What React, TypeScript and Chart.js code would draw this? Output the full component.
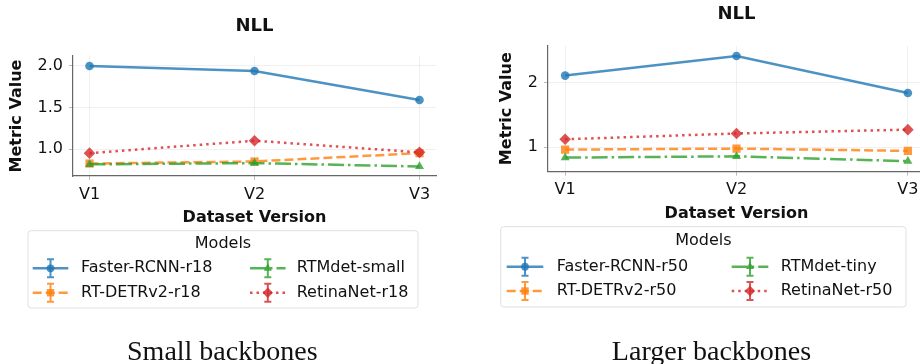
import React, { useEffect, useRef } from 'react';
import { Chart, registerables } from 'chart.js';

Chart.register(...registerables);

// ---------- data ----------
const versions = ['V1', 'V2', 'V3'];
const smallModels = ['Faster-RCNN-r18', 'RT-DETRv2-r18', 'RTMdet-small', 'RetinaNet-r18'];
const largeModels = ['Faster-RCNN-r50', 'RT-DETRv2-r50', 'RTMdet-tiny', 'RetinaNet-r50'];

const fasterSmall = [2.0, 1.94, 1.59];
const rtdetrSmall = [0.825, 0.85, 0.95];
const rtmdetSmall = [0.815, 0.83, 0.79];
const retinaSmall = [0.95, 1.1, 0.96];

const fasterLarge = [2.11, 2.415, 1.84];
const rtdetrLarge = [0.96, 0.975, 0.94];
const rtmdetLarge = [0.835, 0.855, 0.78];
const retinaLarge = [1.12, 1.21, 1.27];

const yTicksSmall = [1.0, 1.5, 2.0];
const yTicksLarge = [1, 2];
const xTickValues = [0, 1, 2];

const chartTitle = 'NLL';
const yTitle = 'Metric Value';
const xTitle = 'Dataset Version';
const legendTitle = 'Models';
const captions = ['Small backbones', 'Larger backbones'];

// ---------- styles ----------
const FONT = '"DejaVu Sans", sans-serif';
const TEXT = '#111';

type SeriesStyle = { rgb: number[]; dash: number[]; point: string; radius: number };
const seriesStyles: SeriesStyle[] = [
  { rgb: [31, 119, 180], dash: [], point: 'circle', radius: 4.3 },
  { rgb: [255, 127, 14], dash: [9, 4], point: 'rect', radius: 5.8 },
  { rgb: [44, 160, 44], dash: [16, 4, 2.5, 4], point: 'triangle', radius: 5.2 },
  { rgb: [214, 39, 40], dash: [2.5, 4], point: 'rectRot', radius: 5.8 },
];
const rgba = (c: number[], a: number) => `rgba(${c[0]},${c[1]},${c[2]},${a})`;

function drawMarker(ctx: CanvasRenderingContext2D, kind: string, x: number, y: number, r: number) {
  ctx.beginPath();
  if (kind === 'circle') {
    ctx.arc(x, y, r, 0, Math.PI * 2);
  } else if (kind === 'rect') {
    const s = r * Math.SQRT1_2;
    ctx.rect(x - s, y - s, 2 * s, 2 * s);
  } else if (kind === 'triangle') {
    ctx.moveTo(x, y - r);
    ctx.lineTo(x + r * 0.866, y + r * 0.5);
    ctx.lineTo(x - r * 0.866, y + r * 0.5);
    ctx.closePath();
  } else {
    ctx.moveTo(x, y - r);
    ctx.lineTo(x + r, y);
    ctx.lineTo(x, y + r);
    ctx.lineTo(x - r, y);
    ctx.closePath();
  }
  ctx.fill();
}

const panelPlugin = {
  id: 'panelDecor',
  afterDraw(chart: any, _args: any, opts: any) {
    const ctx: CanvasRenderingContext2D = chart.ctx;
    const ca = chart.chartArea;
    ctx.save();
    // title
    ctx.fillStyle = TEXT;
    ctx.font = `bold 18px ${FONT}`;
    ctx.textAlign = 'center';
    ctx.textBaseline = 'middle';
    ctx.fillText(opts.title, (ca.left + ca.right) / 2, opts.titleY);

    // legend box
    const L = opts.legend;
    const w = L.x1 - L.x0;
    const h = L.y1 - L.y0;
    ctx.beginPath();
    if ((ctx as any).roundRect) (ctx as any).roundRect(L.x0, L.y0, w, h, 3);
    else ctx.rect(L.x0, L.y0, w, h);
    ctx.fillStyle = 'rgba(255,255,255,0.8)';
    ctx.fill();
    ctx.strokeStyle = '#e0e0e0';
    ctx.lineWidth = 1;
    ctx.stroke();

    ctx.fillStyle = TEXT;
    ctx.font = `16px ${FONT}`;
    ctx.textAlign = 'center';
    ctx.fillText(opts.legendTitle, (L.x0 + L.x1) / 2, L.titleY);

    const ds = chart.data.datasets;
    ds.forEach((d: any, i: number) => {
      const col = Math.floor(i / 2);
      const row = i % 2;
      const hx0 = L.x0 + L.cols[col].handle;
      const hx1 = hx0 + L.handleLen;
      const tx = L.x0 + L.cols[col].text;
      const y = L.rows[row];
      const st = seriesStyles[i];
      const c = rgba(st.rgb, 0.8);
      const cx = (hx0 + hx1) / 2;
      // line
      ctx.save();
      ctx.strokeStyle = c;
      ctx.lineWidth = 2.5;
      ctx.setLineDash(st.dash);
      ctx.beginPath();
      ctx.moveTo(hx0, y);
      ctx.lineTo(hx1, y);
      ctx.stroke();
      ctx.restore();
      // error bar
      ctx.strokeStyle = c;
      ctx.lineWidth = 2;
      ctx.setLineDash([]);
      ctx.beginPath();
      ctx.moveTo(cx, y - 9);
      ctx.lineTo(cx, y + 9);
      ctx.moveTo(cx - 3.5, y - 9);
      ctx.lineTo(cx + 3.5, y - 9);
      ctx.moveTo(cx - 3.5, y + 9);
      ctx.lineTo(cx + 3.5, y + 9);
      ctx.stroke();
      // marker
      ctx.fillStyle = c;
      drawMarker(ctx, st.point, cx, y, st.radius * 0.9);
      // text
      ctx.fillStyle = TEXT;
      ctx.textAlign = 'left';
      ctx.textBaseline = 'middle';
      ctx.font = `16px ${FONT}`;
      ctx.fillText(d.label, tx, y);
    });
    ctx.restore();
  },
};

type PanelCfg = {
  left: number;
  width: number;
  models: string[];
  series: number[][];
  yMin: number;
  yMax: number;
  yTicks: number[];
  decimals: number;
  yAxisWidth: number;
  yTitlePad: number;
  xAxisHeight: number;
  pad: { left: number; right: number; top: number; bottom: number };
  titleY: number;
  legend: any;
};

const panels: PanelCfg[] = [
  {
    left: 0,
    width: 460,
    models: smallModels,
    series: [fasterSmall, rtdetrSmall, rtmdetSmall, retinaSmall],
    yMin: 0.675,
    yMax: 2.12,
    yTicks: yTicksSmall,
    decimals: 1,
    yAxisWidth: 73,
    yTitlePad: 7.1,
    xAxisHeight: 51.6,
    pad: { left: 0, right: 24, top: 56, bottom: 136.4 },
    titleY: 26.3,
    legend: {
      x0: 28, x1: 418, y0: 230.7, y1: 308,
      titleY: 244, rows: [268.3, 292.7], handleLen: 35.6,
      cols: [{ handle: 4.7, text: 53 }, { handle: 222, text: 268.7 }],
    },
  },
  {
    left: 460,
    width: 480,
    models: largeModels,
    series: [fasterLarge, rtdetrLarge, rtmdetLarge, retinaLarge],
    yMin: 0.616,
    yMax: 2.575,
    yTicks: yTicksLarge,
    decimals: 0,
    yAxisWidth: 88,
    yTitlePad: 37.1,
    xAxisHeight: 51.9,
    pad: { left: 0, right: 15, top: 45.7, bottom: 140.4 },
    titleY: 14.7,
    legend: {
      x0: 40.7, x1: 446, y0: 226.7, y1: 307,
      titleY: 241, rows: [266.7, 291], handleLen: 36.6,
      cols: [{ handle: 6, text: 56 }, { handle: 231, text: 280 }],
    },
  },
];

function Panel({ cfg }: { cfg: PanelCfg }) {
  const ref = useRef<HTMLCanvasElement | null>(null);
  useEffect(() => {
    if (!ref.current) return;
    const datasets = cfg.series.map((vals, i) => {
      const st = seriesStyles[i];
      return {
        label: cfg.models[i],
        data: vals.map((v, j) => ({ x: j, y: v })),
        borderColor: rgba(st.rgb, 0.8),
        backgroundColor: rgba(st.rgb, 0.8),
        pointBackgroundColor: rgba(st.rgb, 0.8),
        pointBorderColor: rgba(st.rgb, 0.8),
        pointBorderWidth: 0,
        borderWidth: 2.5,
        borderDash: st.dash,
        pointStyle: st.point,
        pointRadius: st.radius,
        tension: 0,
        fill: false,
        order: cfg.series.length - i,
      };
    });
    const chart = new Chart(ref.current, {
      type: 'line',
      data: { datasets },
      plugins: [panelPlugin],
      options: {
        animation: false,
        responsive: false,
        maintainAspectRatio: false,
        layout: { padding: cfg.pad },
        plugins: {
          legend: { display: false },
          title: { display: false },
          tooltip: { enabled: false },
          panelDecor: {
            title: chartTitle,
            titleY: cfg.titleY,
            legendTitle,
            legend: cfg.legend,
          },
        } as any,
        scales: {
          x: {
            type: 'linear',
            min: -0.1,
            max: 2.1,
            afterBuildTicks: (s: any) => {
              s.ticks = xTickValues.map((v) => ({ value: v }));
            },
            afterFit: (s: any) => {
              s.height = cfg.xAxisHeight;
            },
            ticks: {
              callback: (v: any) => versions[Math.round(Number(v))] ?? '',
              font: { family: FONT, size: 16 },
              color: TEXT,
              padding: 5,
              autoSkip: false,
              maxRotation: 0,
            },
            grid: { color: 'rgba(0,0,0,0.06)', tickColor: '#bbb', tickLength: 4, drawTicks: true },
            border: { color: '#666', width: 1.2 },
            title: {
              display: true,
              text: xTitle,
              font: { family: FONT, size: 16, weight: 'bold' },
              color: TEXT,
              padding: { top: 0, bottom: 0 },
            },
          },
          y: {
            type: 'linear',
            min: cfg.yMin,
            max: cfg.yMax,
            afterBuildTicks: (s: any) => {
              s.ticks = cfg.yTicks.map((v) => ({ value: v }));
            },
            afterFit: (s: any) => {
              s.width = cfg.yAxisWidth;
            },
            ticks: {
              callback: (v: any) => Number(v).toFixed(cfg.decimals),
              font: { family: FONT, size: 16 },
              color: TEXT,
              padding: 6,
            },
            grid: { color: 'rgba(0,0,0,0.06)', tickColor: '#bbb', tickLength: 4, drawTicks: true },
            border: { color: '#666', width: 1.2 },
            title: {
              display: true,
              text: yTitle,
              font: { family: FONT, size: 16, weight: 'bold' },
              color: TEXT,
              padding: { top: cfg.yTitlePad, bottom: 0 },
            },
          },
        },
      } as any,
    });
    return () => chart.destroy();
  }, [cfg]);
  return (
    <canvas
      ref={ref}
      width={cfg.width}
      height={364}
      style={{ position: 'absolute', left: cfg.left, top: 0, width: cfg.width, height: 364, display: 'block' }}
    />
  );
}

const captionCenters = [222.3, 711.5];

export default function App() {
  return (
    <div
      style={{
        position: 'absolute',
        left: 0,
        top: 0,
        width: 920,
        height: 364,
        overflow: 'hidden',
        background: '#fff',
      }}
    >
      {panels.map((p, i) => (
        <Panel key={i} cfg={p} />
      ))}
      {captions.map((c, i) => (
        <div
          key={c}
          style={{
            position: 'absolute',
            left: captionCenters[i],
            top: 337.3,
            transform: 'translateX(-50%)',
            fontFamily: '"Liberation Serif", "DejaVu Serif", serif',
            fontSize: 28,
            lineHeight: '28px',
            whiteSpace: 'nowrap',
            color: '#111',
          }}
        >
          {c}
        </div>
      ))}
    </div>
  );
}
